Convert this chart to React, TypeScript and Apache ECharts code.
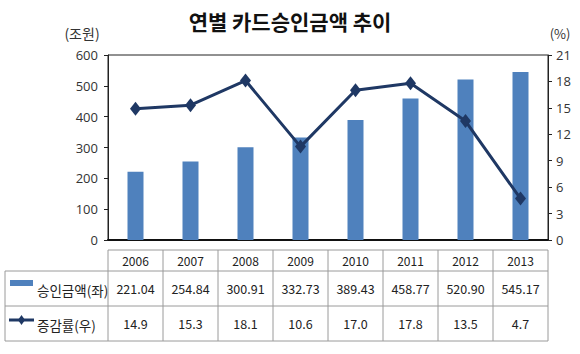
import React, { useEffect, useRef } from "react";
import * as echarts from "echarts";

const years = ["2006", "2007", "2008", "2009", "2010", "2011", "2012", "2013"];
const amounts = [221.04, 254.84, 300.91, 332.73, 389.43, 458.77, 520.9, 545.17];
const amountLabels = ["221.04", "254.84", "300.91", "332.73", "389.43", "458.77", "520.90", "545.17"];
const rates = [14.9, 15.3, 18.1, 10.6, 17.0, 17.8, 13.5, 4.7];
const rateLabels = ["14.9", "15.3", "18.1", "10.6", "17.0", "17.8", "13.5", "4.7"];
const title = "연별 카드승인금액 추이";
const seriesNames = ["승인금액(좌)", "증감률(우)"];

const FONT = "'Noto Sans CJK KR', 'Noto Sans', sans-serif";
const BAR = "#4F81BD";
const LINE = "#1F3864";

export default function App() {
  const ref = useRef<HTMLDivElement>(null);
  useEffect(() => {
    const el = ref.current!;
    const chart = echarts.init(el, null, { renderer: "svg" });
    const W = 580;
    const gl = 108, gr = 548, gt = 55, gb = 240;
    const colW = (gr - gl) / years.length;
    const tTop = 250, r1 = 271, r2 = 306, r3 = 341, tLeft = 5;
    const border = "#9a9a9a";
    const g: any[] = [];
    g.push({ type: "line", shape: { x1: gl, y1: tTop, x2: gr, y2: tTop }, style: { stroke: border, lineWidth: 1 } });
    g.push({ type: "line", shape: { x1: tLeft, y1: r1, x2: gr, y2: r1 }, style: { stroke: border, lineWidth: 1 } });
    g.push({ type: "line", shape: { x1: tLeft, y1: r2, x2: gr, y2: r2 }, style: { stroke: border, lineWidth: 1 } });
    g.push({ type: "line", shape: { x1: tLeft, y1: r3, x2: gr, y2: r3 }, style: { stroke: border, lineWidth: 1 } });
    g.push({ type: "line", shape: { x1: tLeft, y1: r1, x2: tLeft, y2: r3 }, style: { stroke: border, lineWidth: 1 } });
    for (let i = 0; i <= years.length; i++) {
      const x = gl + i * colW;
      g.push({ type: "line", shape: { x1: x, y1: tTop, x2: x, y2: r3 }, style: { stroke: border, lineWidth: 1 } });
    }
    years.forEach((y, i) => {
      const cx = gl + (i + 0.5) * colW;
      g.push({ type: "text", x: cx, y: (tTop + r1) / 2, style: { text: y, fontSize: 12, fontFamily: FONT, fill: "#222", align: "center", verticalAlign: "middle" } });
      g.push({ type: "text", x: cx, y: (r1 + r2) / 2, style: { text: amountLabels[i], fontSize: 12.5, fontFamily: FONT, fill: "#222", align: "center", verticalAlign: "middle" } });
      g.push({ type: "text", x: cx, y: (r2 + r3) / 2, style: { text: rateLabels[i], fontSize: 12.5, fontFamily: FONT, fill: "#222", align: "center", verticalAlign: "middle" } });
    });
    g.push({ type: "rect", shape: { x: 10, y: 280, width: 23, height: 6 }, style: { fill: BAR } });
    g.push({ type: "text", x: 37, y: (r1 + r2) / 2 + 1, style: { text: seriesNames[0], fontSize: 13.5, fontFamily: FONT, fill: "#222", verticalAlign: "middle" } });
    g.push({ type: "line", shape: { x1: 9, y1: 320, x2: 34, y2: 320 }, style: { stroke: LINE, lineWidth: 3 } });
    g.push({ type: "polygon", shape: { points: [[21.5, 315], [25, 320], [21.5, 325], [18, 320]] }, style: { fill: LINE } });
    g.push({ type: "text", x: 37, y: (r2 + r3) / 2 + 1, style: { text: seriesNames[1], fontSize: 13.5, fontFamily: FONT, fill: "#222", verticalAlign: "middle" } });
    g.push({ type: "text", x: 82, y: 33, style: { text: "(조원)", fontSize: 14, fontFamily: FONT, fill: "#333", align: "center", verticalAlign: "middle" } });
    g.push({ type: "text", x: 560, y: 33, style: { text: "(%)", fontSize: 13, fontFamily: FONT, fill: "#333", align: "center", verticalAlign: "middle" } });

    chart.setOption({
      animation: false,
      backgroundColor: "#ffffff",
      title: {
        text: title,
        left: "center",
        top: 5,
        textStyle: { fontSize: 21, fontWeight: "bold", fontFamily: FONT, color: "#111" },
      },
      grid: { left: gl, right: W - gr, top: gt, bottom: 354 - gb, show: true, borderColor: "#222", borderWidth: 1 },
      xAxis: {
        type: "category",
        data: years,
        axisLine: { show: true, lineStyle: { color: "#111", width: 2 } },
        axisTick: { show: false },
        axisLabel: { show: false },
      },
      yAxis: [
        {
          type: "value",
          min: 0,
          max: 600,
          interval: 100,
          splitLine: { show: false },
          axisLine: { show: true, lineStyle: { color: "#222" } },
          axisTick: { show: true, length: 4, lineStyle: { color: "#222" } },
          axisLabel: { fontSize: 13, color: "#333", fontFamily: "'Open Sans', sans-serif", margin: 10 },
        },
        {
          type: "value",
          min: 0,
          max: 21,
          interval: 3,
          splitLine: { show: false },
          axisLine: { show: true, lineStyle: { color: "#222" } },
          axisTick: { show: true, length: 4, lineStyle: { color: "#222" } },
          axisLabel: { fontSize: 13, color: "#333", fontFamily: "'Open Sans', sans-serif", margin: 8 },
        },
      ],
      series: [
        {
          name: seriesNames[0],
          type: "bar",
          data: amounts,
          barWidth: 16,
          itemStyle: { color: BAR },
        },
        {
          name: seriesNames[1],
          type: "line",
          yAxisIndex: 1,
          data: rates,
          symbol: "diamond",
          symbolSize: [11, 14],
          lineStyle: { color: LINE, width: 3 },
          itemStyle: { color: LINE },
        },
      ],
      graphic: g,
    });
    return () => chart.dispose();
  }, []);
  return <div ref={ref} style={{ position: "fixed", left: 0, top: 0, width: 580, height: 354 }} />;
}
